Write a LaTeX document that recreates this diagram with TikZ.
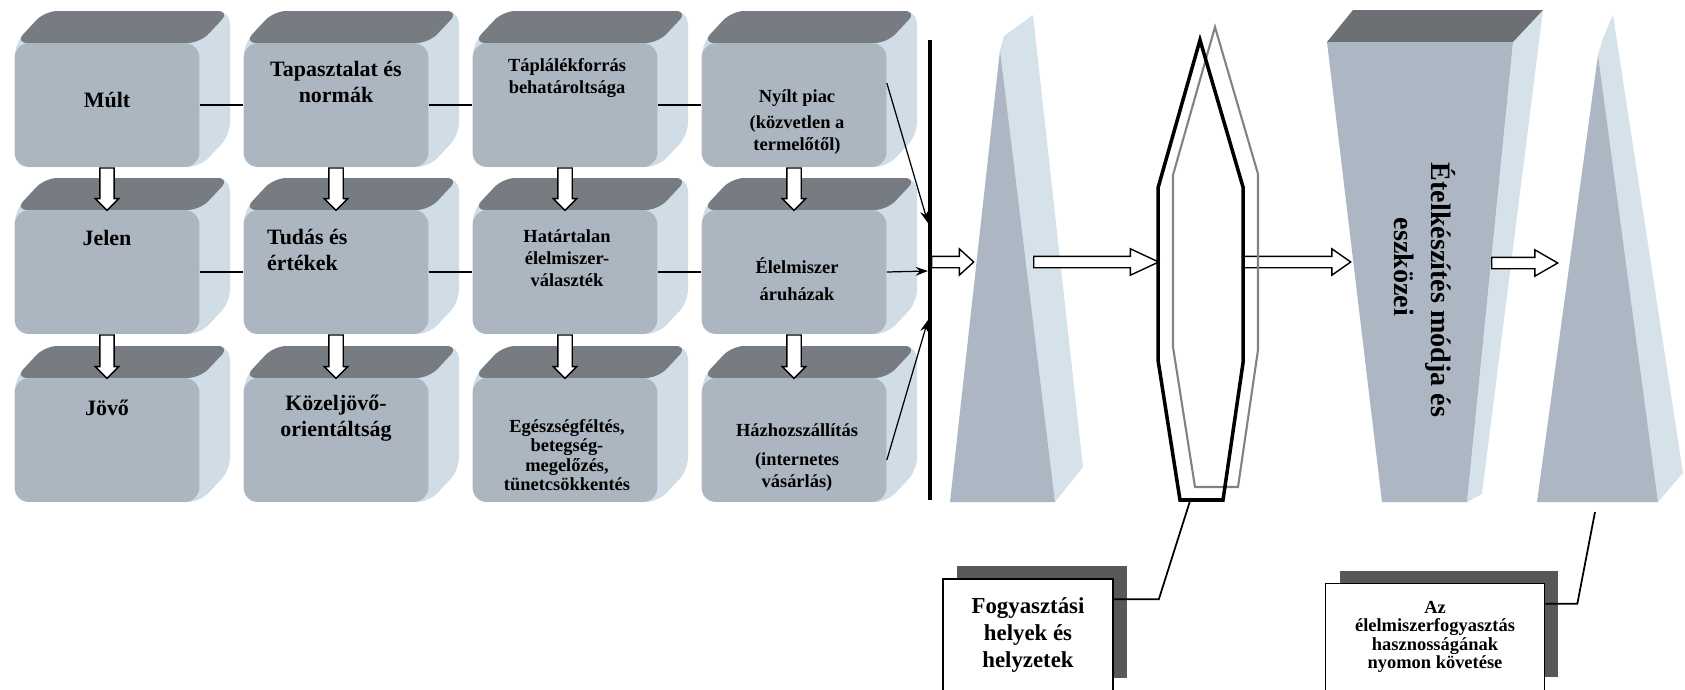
\documentclass[tikz,border=0pt]{standalone}
\usepackage{fontspec}
\setmainfont{Liberation Serif}
\usetikzlibrary{calc,shapes.arrows,shadows,arrows.meta}

\definecolor{cubefront}{RGB}{172,182,193}
\definecolor{cubetop}{RGB}{118,124,130}
\definecolor{cubeside}{RGB}{208,220,230}
\definecolor{pyrdark}{RGB}{172,183,195}
\definecolor{pyrlight}{RGB}{214,226,234}
\definecolor{talltop}{RGB}{108,112,116}
\definecolor{shadowgray}{RGB}{88,88,88}
\definecolor{lensgray}{RGB}{130,130,130}

\tikzset{
  cubeface/.style={fill=cubefront, rounded corners=0.3cm, minimum width=3.7cm, minimum height=2.48cm, inner sep=0pt},
  bigtext/.style={font=\bfseries\fontsize{12.5}{15}\selectfont, align=center, inner sep=1pt},
  smalltext/.style={font=\bfseries\fontsize{10.5}{12.5}\selectfont, align=center, inner sep=1pt},
  link/.style={line width=1pt},
  feed/.style={->, line width=0.7pt},
  downarr/.style={single arrow, draw, fill=white, line width=0.8pt, inner xsep=0pt, inner ysep=0.13cm, single arrow head extend=0.09cm, single arrow tip angle=90},
  sidearr/.style={single arrow, draw, fill=white, line width=0.8pt, inner xsep=0pt, inner ysep=0.1cm, single arrow head extend=0.15cm, single arrow tip angle=55},
  notebox/.style={draw, line width=1pt, fill=white, align=center, inner sep=2pt, drop shadow={shadow xshift=0.28cm, shadow yshift=0.26cm, fill=shadowgray, opacity=1}},
  lensline/.style={line width=2pt},
  lensback/.style={draw=lensgray, line width=1.2pt},
}

% one rounded 3D block: name, x, y of the front face centre
\newcommand{\foodcube}[3]{%
  \fill[cubeside, rounded corners=0.25cm] (#2-92,#3-62) -- ++(30,-32) -- ++(185,0) -- ++(0,124) -- ++(-30,32) -- ++(-185,0) -- cycle;
  \fill[cubetop, rounded corners=0.25cm] (#2-92,#3-62) -- ++(30,-32) -- ++(185,0) -- ++(-30,32) -- cycle;
  \node[cubeface] (#1) at (#2,#3) {};
}

% white block arrow between two points
\newcommand{\blockarrow}[3][]{%
  \path let \p1=(#2), \p2=(#3), \n1={atan2(\y2-\y1,\x2-\x1)}, \n2={veclen(\x2-\x1,\y2-\y1)} in
    node[#1, minimum height=\n2, rotate=\n1, anchor=tail] at (\p1) {};
}

\begin{document}
\begin{tikzpicture}[x=0.02cm, y=-0.02cm, >={Stealth[length=7pt,width=5pt]}]
\useasboundingbox (0,0) rectangle (1685,690);

\foodcube{mult}{107}{105}
\foodcube{tapaszt}{336}{105}
\foodcube{taplalek}{565}{105}
\foodcube{nyilt}{794}{105}
\foodcube{jelen}{107}{272}
\foodcube{tudas}{336}{272}
\foodcube{hatartalan}{565}{272}
\foodcube{aruhaz}{794}{272}
\foodcube{jovo}{107}{440}
\foodcube{kozel}{336}{440}
\foodcube{egeszseg}{565}{440}
\foodcube{hazhoz}{794}{440}

\node[bigtext] (mult-t) at (107,100) {Múlt};
\node[bigtext] (tapaszt-t) at (336,82) {Tapasztalat és\\normák};
\node[smalltext] (taplalek-t) at (567,78) {Táplálékforrás\\behatároltsága};
\node[smalltext] (nyilt-t) at (797,122) {Nyílt piac\\[2pt](közvetlen a\\termelőtől)};
\node[bigtext] (jelen-t) at (107,238) {Jelen};
\node[bigtext, anchor=west, align=left] (tudas-t) at (265,250) {Tudás és\\értékek};
\node[smalltext] (hatartalan-t) at (567,258) {Határtalan\\élelmiszer-\\választék};
\node[smalltext] (aruhaz-t) at (797,279) {Élelmiszer\\[3pt]áruházak};
\node[bigtext] (jovo-t) at (107,408) {Jövő};
\node[bigtext] (kozel-t) at (336,418) {Közeljövő-\\orientáltság};
\node[smalltext, font=\bfseries\fontsize{10.5}{11}\selectfont] (egeszseg-t) at (567,455) {Egészségféltés,\\betegség-\\megelőzés,\\tünetcsökkentés};
\node[smalltext] (hazhoz-t) at (797,458) {Házhozszállítás\\[4pt](internetes\\vásárlás)};

\draw[link] (mult) -- (tapaszt);
\draw[link] (tapaszt) -- (taplalek);
\draw[link] (taplalek) -- (nyilt);
\draw[link] (jelen) -- (tudas);
\draw[link] (tudas) -- (hatartalan);
\draw[link] (hatartalan) -- (aruhaz);

\blockarrow[downarr]{mult.south}{jelen.north}
\blockarrow[downarr]{tapaszt.south}{tudas.north}
\blockarrow[downarr]{taplalek.south}{hatartalan.north}
\blockarrow[downarr]{nyilt.south}{aruhaz.north}
\blockarrow[downarr]{jelen.south}{jovo.north}
\blockarrow[downarr]{tudas.south}{kozel.north}
\blockarrow[downarr]{hatartalan.south}{egeszseg.north}
\blockarrow[downarr]{aruhaz.south}{hazhoz.north}

\coordinate (walltop) at (930,40);
\coordinate (wallbot) at (930,500);
\coordinate (w1) at (928,223);
\coordinate (w2) at (928,271);
\coordinate (w3) at (928,320);
\draw[line width=1.8pt] (walltop) -- (wallbot);
\draw[feed] ($(nyilt.east)+(0,-22)$) -- (w1);
\draw[feed] (aruhaz.east) -- (w2);
\draw[feed] ($(hazhoz.east)+(0,20)$) -- (w3);

\fill[pyrlight] (1000,50) -- (1004,36) -- (1033,15) -- (1083,467) -- (1055,502) -- cycle;
\fill[pyrdark] (950,502) -- (1000,50) -- (1055,502) -- cycle;

\fill[pyrlight] (1513,42) -- (1543,10) -- (1482,494) -- (1467,502) -- cycle;
\fill[talltop] (1327,42) -- (1353,10) -- (1543,10) -- (1513,42) -- cycle;
\fill[pyrdark] (1327,42) -- (1513,42) -- (1467,502) -- (1382,502) -- cycle;
\node[font=\bfseries\fontsize{16}{21}\selectfont, align=left, rotate=-90] (etel) at (1425,290) {Ételkészítés módja és\\\hspace*{1.1cm}eszközei};

\fill[pyrlight] (1598,55) -- (1603,38) -- (1613,15) -- (1683,473) -- (1658,502) -- cycle;
\fill[pyrdark] (1537,502) -- (1598,55) -- (1658,502) -- cycle;

\coordinate (wallmid) at (931,262);
\coordinate (pyr1l) at (973,262);
\coordinate (pyr1r) at (1033,262);
\coordinate (lensl) at (1158,262);
\coordinate (lensr) at (1243,262);
\coordinate (talll) at (1350,262);
\coordinate (tallr) at (1491,263);
\coordinate (pyr2l) at (1557,263);
\coordinate (lensbot) at (1190,501);
\coordinate (pyr2foot) at (1595,512);

\blockarrow[sidearr, single arrow tip angle=85]{wallmid}{pyr1l}
\blockarrow[sidearr, single arrow tip angle=50]{pyr1r}{lensl}
\blockarrow[sidearr, single arrow tip angle=70]{lensr}{talll}
\blockarrow[sidearr, single arrow tip angle=60]{tallr}{pyr2l}

\draw[lensback, shift={(15,-13)}] (1200,40) -- (1243,187) -- (1243,363) -- (1223,500) -- (1180,500) -- (1158,360) -- (1158,188) -- cycle;
\draw[lensline] (1200,40) -- (1243,187) -- (1243,363) -- (1223,500) -- (1180,500) -- (1158,360) -- (1158,188) -- cycle;

\node[notebox, minimum width=3.4cm, minimum height=2.24cm, font=\bfseries\fontsize{13}{15.4}\selectfont] (fogy) at (1028,635) {Fogyasztási\\helyek és\\helyzetek};
\node[notebox, minimum width=4.38cm, minimum height=2.14cm, font=\bfseries\fontsize{10.5}{10.5}\selectfont] (az) at (1435,637) {Az\\élelmiszerfogyasztás\\hasznosságának\\nyomon követése};

\draw[link] ($(fogy.north east)+(0,21)$) -- ++(45,0) -- (lensbot);
\draw[link] ($(az.north east)+(0,21)$) -- ++(32,0) -- (pyr2foot);
\end{tikzpicture}
\end{document}
